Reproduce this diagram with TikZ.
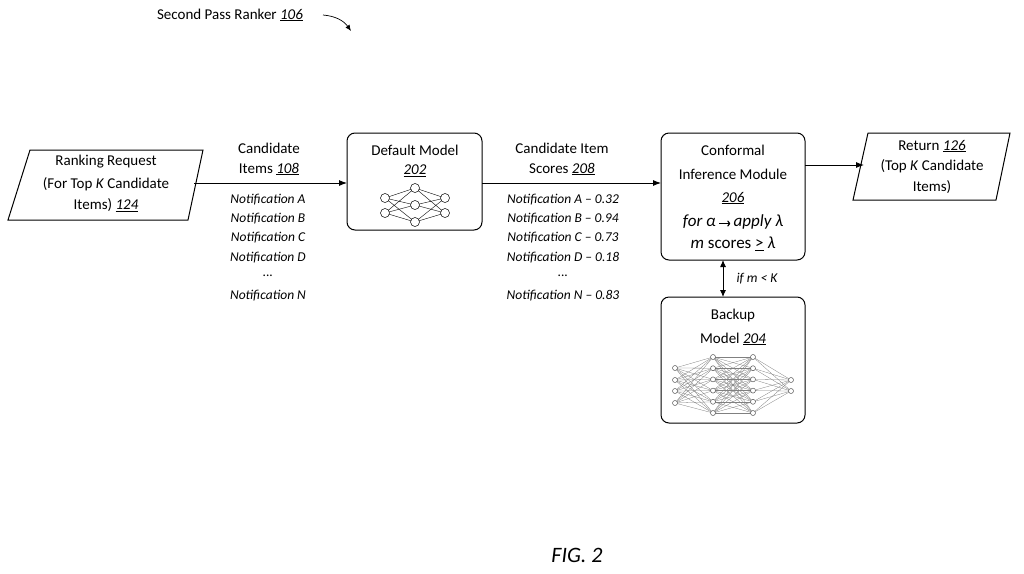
\documentclass[tikz,border=0pt]{standalone}
\usepackage{fontspec}
\setmainfont{Carlito}
\usetikzlibrary{arrows.meta,shapes.geometric}
\begin{document}
\begin{tikzpicture}[x=1pt,y=-1pt,
  txt/.style={font=\fontsize{15}{18}\selectfont,inner sep=0pt,anchor=center},
  it/.style={font=\fontsize{13.5}{16}\selectfont\itshape,inner sep=0pt,anchor=center},
  box/.style={draw,line width=1pt,rounded corners=8pt},
  arr/.style={-{Latex[length=8pt,width=6pt]},line width=0.9pt},
  neu/.style={circle,draw,inner sep=0pt,minimum size=#1,line width=0.5pt,fill=white}]
\useasboundingbox (0,0) rectangle (1024,573);
% title
\node[txt] (title) at (230,15) {Second Pass Ranker \underline{\textit{106}}};
\coordinate (t1) at (323,15);
\coordinate (t2) at (351,31);
\draw[-{Latex[length=6pt,width=5pt]},line width=0.7pt] (t1) to[bend left=25] (t2);
% ranking request
\draw[line width=1pt] (30,150) -- (203,150) -- (188,220) -- (8,220) -- cycle;
\node[txt] (rr1) at (106,162) {Ranking Request};
\node[txt] (rr2) at (106,184) {(For Top \textit{K} Candidate};
\node[txt] (rr3) at (106,205) {Items) \underline{\textit{124}}};
\coordinate (rrE) at (194,183);
% default model
\draw[box] (347,133) rectangle (482,230);
\coordinate (dmW) at (347,183);
\coordinate (dmE) at (482,183);
\node[txt] (dm1) at (415,150) {Default Model};
\node[txt] (dm2) at (415,171) {\underline{\textit{202}}};
\foreach \a in {198,213} \foreach \b in {188,205,222} {
  \draw[line width=0.4pt] (385,\a) -- (415,\b) -- (445,\a);}
\foreach \a in {198,213} {\node[neu=9pt] at (385,\a) {}; \node[neu=9pt] at (445,\a) {};}
\foreach \b in {188,205,222} {\node[neu=9pt] at (415,\b) {};}
\draw[arr] (rrE) -- (dmW);
\node[txt] (ci1) at (269,148) {Candidate};
\node[txt] (ci2) at (269,169) {Items \underline{\textit{108}}};
\node[it] (n1) at (268,200) {Notification A};
\node[it] (n2) at (268,219) {Notification B};
\node[it] (n3) at (268,238) {Notification C};
\node[it] (n4) at (268,258) {Notification D};
\node[it] (n5) at (268,276) {...};
\node[it] (n6) at (268,296) {Notification N};
% conformal
\draw[box] (661,133) rectangle (805,260);
\coordinate (cfW) at (661,183);
\coordinate (cfE) at (805,165);
\coordinate (cfS) at (723,260);
\draw[arr] (dmE) -- (cfW);
\node[txt] (cs1) at (562,148) {Candidate Item};
\node[txt] (cs2) at (562,169) {Scores \underline{\textit{208}}};
\node[it] (s1) at (563,200) {Notification A -- 0.32};
\node[it] (s2) at (563,219) {Notification B -- 0.94};
\node[it] (s3) at (563,238) {Notification C -- 0.73};
\node[it] (s4) at (563,258) {Notification D -- 0.18};
\node[it] (s5) at (563,276) {...};
\node[it] (s6) at (563,296) {Notification N -- 0.83};
\node[txt] (c1) at (733,150) {Conformal};
\node[txt] (c2) at (733,174) {Inference Module};
\node[txt] (c3) at (733,198) {\underline{\textit{206}}};
\node[txt,font=\fontsize{17}{20}\selectfont\itshape] (c4) at (733,222) {for α\,\tikz[baseline=-3pt]\draw[-{To[length=3pt,width=6pt]},line width=1.2pt](0,0)--(11,0);\,apply λ};
\node[txt,font=\fontsize{17}{20}\selectfont] (c5) at (733,244) {\textit{m} scores \underline{>} \textit{λ}};
% return
\draw[line width=1pt] (868,133) -- (1010,133) -- (996,200) -- (853,200) -- cycle;
\coordinate (reW) at (864,165);
\draw[arr] (cfE) -- (reW);
\node[txt] (r1) at (932,146) {Return \underline{\textit{126}}};
\node[txt] (r2) at (932,166) {(Top \textit{K} Candidate};
\node[txt] (r3) at (932,187) {Items)};
% backup
\draw[box] (661,297) rectangle (805,423);
\coordinate (bkN) at (723,297);
\draw[{Latex[length=7pt,width=6pt]}-{Latex[length=7pt,width=6pt]},line width=0.9pt] (cfS) -- (bkN);
\node[it] (ifm) at (757,279) {if m < K};
\node[txt] (b1) at (733,315) {Backup};
\node[txt] (b2) at (733,339) {Model \underline{\textit{204}}};
\def\LA{368,380,391,403}
\def\LB{357,368.2,379.4,390.6,401.8,413}
\def\LD{380,391}
\foreach \a in \LA \foreach \b in \LB {\draw[gray,line width=0.3pt] (675,\a) -- (713,\b);}
\foreach \a in \LB \foreach \b in \LB {\draw[gray,line width=0.3pt] (713,\a) -- (753,\b);}
\foreach \a in \LB \foreach \b in \LD {\draw[gray,line width=0.3pt] (753,\a) -- (791,\b);}
\foreach \a in \LA {\node[neu=5pt,draw=gray!70!black] at (675,\a) {};}
\foreach \a in \LB {\node[neu=5pt,draw=gray!70!black] at (713,\a) {}; \node[neu=5pt,draw=gray!70!black] at (753,\a) {};}
\foreach \a in \LD {\node[neu=5pt,draw=gray!70!black] at (791,\a) {};}
% fig
\node[txt,font=\fontsize{22}{26}\selectfont\itshape] (fig) at (577,555) {FIG. 2};
\end{tikzpicture}
\end{document}
